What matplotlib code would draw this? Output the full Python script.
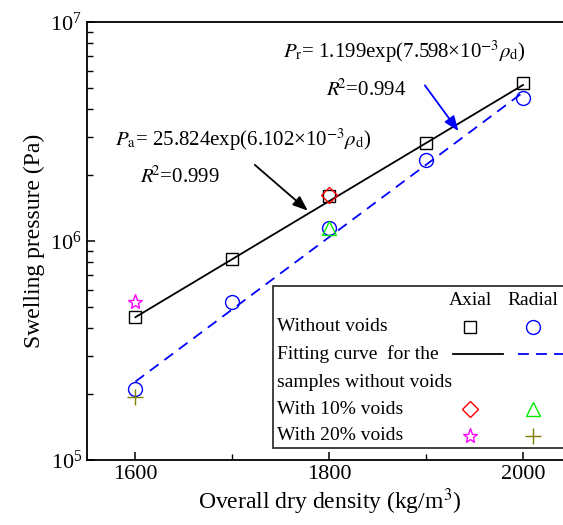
import matplotlib
matplotlib.use("Agg")
import matplotlib.pyplot as plt
from matplotlib.lines import Line2D
from matplotlib.patches import Rectangle

plt.rcParams['font.family'] = 'serif'
plt.rcParams['font.serif'] = ['Liberation Serif', 'DejaVu Serif']
plt.rcParams['mathtext.fontset'] = 'stix'

# data
density = [1600, 1700, 1800, 1900, 2000]
axial_pressure = [4.5e5, 8.3e5, 1.6e6, 2.8e6, 5.25e6]
radial_pressure = [2.11e5, 5.26e5, 1.15e6, 2.35e6, 4.5e6]

# fitting curves (straight on a log axis), end points
fit_density = [1600, 2000]
fit_axial = [4.49e5, 5.16e6]
fit_radial = [2.28e5, 4.77e6]

voids10_density = [1800]
voids10_axial = [1.62e6]
voids10_radial = [1.15e6]

voids20_density = [1600]
voids20_axial = [5.26e5]
voids20_radial = [1.94e5]

fig = plt.figure(figsize=(5.63, 5.25), dpi=100)
ax = fig.add_axes([0.1545, 0.1238, 0.8606, 0.8343])

ax.plot(fit_density, fit_axial, color='black', lw=1.3)
ax.plot(fit_density, fit_radial, color='blue', lw=1.3, ls=(0, (6, 4)))
ax.plot(density, axial_pressure, 's', mfc='none', mec='black', ms=8, mew=1)
ax.plot(density, radial_pressure, 'o', mfc='none', mec='blue', ms=10, mew=1)
ax.plot(voids10_density, voids10_axial, 'D', mfc='none', mec='red', ms=8, mew=1)
ax.plot(voids10_density, voids10_radial, '^', mfc='none', mec='#00ee00', ms=10, mew=1)
ax.plot(voids20_density, voids20_axial, '*', mfc='none', mec='magenta', ms=11, mew=1)
ax.plot(voids20_density, voids20_radial, '+', color='#808000', ms=11, mew=1)

ax.set_yscale('log')
ax.set_xlim(1550, 2050)
ax.set_ylim(1e5, 1e7)
ax.set_xticks([1600, 1800, 2000])
ax.set_xticks([1700, 1900], minor=True)
ax.tick_params(which='both', direction='in', labelsize=16)
ax.tick_params(which='major', length=6, width=1.1)
ax.tick_params(which='minor', length=4, width=1)
for s in ax.spines.values():
    s.set_linewidth(1.3)

ax.set_xlabel('Overall dry density (kg/m$^3$)', fontsize=17, labelpad=2)
ax.set_ylabel('Swelling pressure (Pa)', fontsize=17, labelpad=4)

# equations and arrows
ax.text(0.058, 0.731, r'$P_{\mathrm{a}}$= 25.824exp(6.102×10$^{-3}$$\rho_{\mathrm{d}}$)',
        transform=ax.transAxes, fontsize=15, va='center')
ax.text(0.109, 0.646, r'$R^{\!\!2}$=0.999', transform=ax.transAxes, fontsize=15, va='center')
ax.text(0.4045, 0.9315, r'$P_{\mathrm{r}}$= 1.199exp(7.598×10$^{-3}$$\rho_{\mathrm{d}}$)',
        transform=ax.transAxes, fontsize=15, va='center')
ax.text(0.493, 0.845, r'$R^{\!\!2}$=0.994', transform=ax.transAxes, fontsize=15, va='center')

ax.annotate('', xy=(1780, 1.35e6), xytext=(1721, 2.27e6),
            arrowprops=dict(arrowstyle='-|>,head_length=0.9,head_width=0.35',
                            color='black', lw=1.3))
ax.annotate('', xy=(1935, 3.1e6), xytext=(1897, 5.26e6),
            arrowprops=dict(arrowstyle='-|>,head_length=0.9,head_width=0.35',
                            color='blue', lw=1.3))

# hand-made legend table
tr = ax.transAxes
ax.add_patch(Rectangle((0.384, 0.027), 0.62, 0.37, transform=tr, fill=True,
                       facecolor='white', edgecolor='#333333', lw=1.3, zorder=5,
                       clip_on=False))
lx, ax_c, rad_c = 0.392, 0.7905, 0.9205
rows = [0.365, 0.304, 0.242, 0.178, 0.116, 0.055]
fs = 14
ax.text(ax_c, rows[0], 'Axial', transform=tr, fontsize=fs, ha='center', va='center', zorder=6)
ax.text(rad_c, rows[0], 'Radial', transform=tr, fontsize=fs, ha='center', va='center', zorder=6)
labels = ['Without voids', 'Fitting curve  for the', 'samples without voids',
          'With 10% voids', 'With 20% voids']
for lab, yy in zip(labels, rows[1:]):
    ax.text(lx, yy, lab, transform=tr, fontsize=fs, va='center', zorder=6)

def mark(x, y, **kw):
    ax.add_line(Line2D([x], [y], transform=tr, zorder=6, **kw))

mark(ax_c, rows[1], marker='s', mfc='none', mec='black', ms=8, mew=1)
mark(rad_c, rows[1], marker='o', mfc='none', mec='blue', ms=10, mew=1)
ax.add_line(Line2D([0.7554, 0.8586], [rows[2], rows[2]], transform=tr, color='black', lw=1.3, zorder=6))
ax.add_line(Line2D([0.8896, 0.985], [rows[2], rows[2]], transform=tr, color='blue', lw=1.3,
                   ls=(0, (6, 4)), zorder=6))
mark(ax_c, rows[4], marker='D', mfc='none', mec='red', ms=8, mew=1)
mark(rad_c, rows[4], marker='^', mfc='none', mec='#00ee00', ms=10, mew=1)
mark(ax_c, rows[5], marker='*', mfc='none', mec='magenta', ms=11, mew=1)
mark(rad_c, rows[5], marker='+', color='#808000', ms=11, mew=1)

fig.savefig('out.png', dpi=100)
